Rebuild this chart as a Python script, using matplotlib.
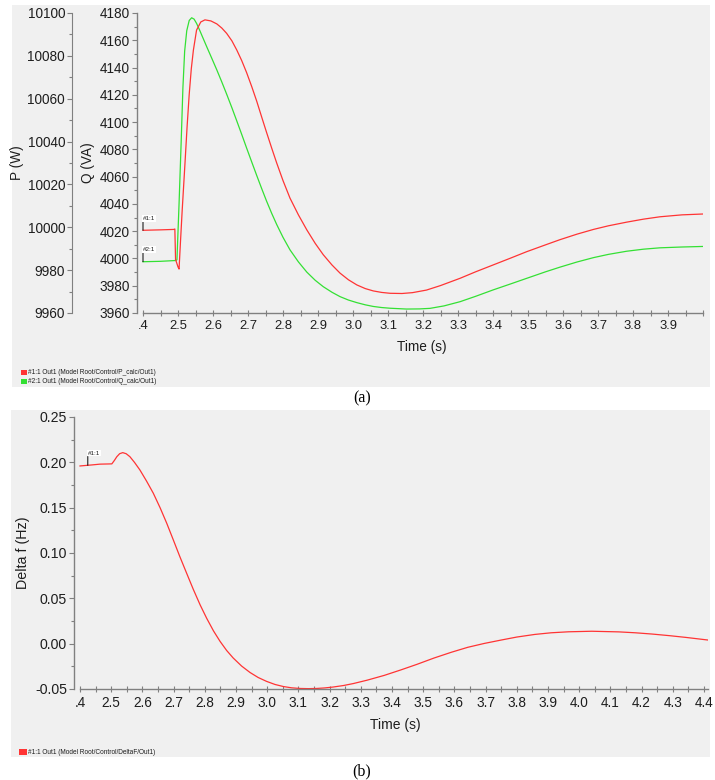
import numpy as np
import matplotlib
matplotlib.use("Agg")
import matplotlib.pyplot as plt
from matplotlib.patches import Rectangle
from matplotlib.ticker import MultipleLocator, FormatStrFormatter

plt.rcParams['font.family'] = ['Liberation Sans', 'DejaVu Sans']
plt.rcParams['axes.unicode_minus'] = False

# ---- panel (a): P and Q after the step ----
t_p = [2.400, 2.450, 2.488, 2.491, 2.493, 2.500, 2.503, 2.507, 2.512, 2.520,
       2.526, 2.532, 2.538, 2.544, 2.553, 2.565, 2.577, 2.594, 2.611, 2.625,
       2.639, 2.654, 2.668, 2.682, 2.696, 2.711, 2.725, 2.739, 2.753, 2.768,
       2.782, 2.800, 2.820, 2.844, 2.868, 2.892, 2.915, 2.940, 2.963, 2.987,
       3.011, 3.035, 3.058, 3.082, 3.106, 3.140, 3.170, 3.210, 3.250, 3.306,
       3.350, 3.400, 3.450, 3.496, 3.550, 3.591, 3.640, 3.687, 3.730, 3.782,
       3.830, 3.877, 3.940, 4.000]
p_calc = [9998.6, 9998.8, 9999.0, 9999.2, 9985.0, 9981.5, 9980.5, 9993.0, 10008.0, 10030.0,
          10047.0, 10062.0, 10074.0, 10082.7, 10092.0, 10095.8, 10096.8, 10096.3, 10094.9, 10093.0,
          10090.5, 10087.0, 10082.7, 10077.8, 10072.2, 10065.5, 10058.8, 10051.5, 10044.3, 10036.8,
          10030.0, 10021.8, 10013.6, 10005.8, 9998.8, 9992.5, 9987.2, 9982.4, 9978.6, 9975.5,
          9973.1, 9971.4, 9970.3, 9969.6, 9969.2, 9969.1, 9969.5, 9970.7, 9972.8, 9976.2,
          9979.2, 9982.4, 9985.6, 9988.6, 9991.8, 9994.2, 9996.8, 9999.0, 10000.7, 10002.4,
          10003.8, 10004.9, 10005.8, 10006.2]

t_q = [2.400, 2.450, 2.494, 2.497, 2.503, 2.509, 2.514, 2.519, 2.525, 2.532,
       2.539, 2.546, 2.553, 2.560, 2.567, 2.582, 2.597, 2.611, 2.625, 2.639,
       2.654, 2.668, 2.682, 2.696, 2.711, 2.725, 2.739, 2.753, 2.768, 2.782,
       2.800, 2.820, 2.844, 2.868, 2.892, 2.915, 2.940, 2.963, 2.987, 3.011,
       3.035, 3.058, 3.082, 3.106, 3.153, 3.190, 3.220, 3.260, 3.306, 3.350,
       3.400, 3.450, 3.496, 3.550, 3.591, 3.640, 3.687, 3.730, 3.782, 3.830,
       3.877, 3.940, 4.000]
q_calc = [3997.6, 3997.9, 3998.5, 3999.0, 4040.0, 4085.0, 4125.0, 4152.0, 4167.0, 4174.5,
          4176.5, 4175.5, 4172.4, 4168.5, 4164.3, 4155.3, 4146.5, 4138.2, 4129.5, 4120.5,
          4110.5, 4100.8, 4091.0, 4081.0, 4070.5, 4060.8, 4051.3, 4042.1, 4032.9, 4024.9,
          4015.5, 4006.3, 3997.5, 3990.0, 3984.0, 3979.3, 3975.2, 3972.0, 3969.5, 3967.6,
          3966.0, 3964.8, 3964.0, 3963.5, 3962.9, 3963.0, 3963.4, 3965.2, 3968.3, 3972.2,
          3976.9, 3981.3, 3985.4, 3990.2, 3993.6, 3997.4, 4000.6, 4003.0, 4005.3, 4006.8,
          4007.8, 4008.4, 4008.8]

# ---- panel (b): frequency deviation ----
t_f = [2.400, 2.440, 2.464, 2.502, 2.510, 2.518, 2.527, 2.537, 2.548, 2.560,
       2.575, 2.592, 2.613, 2.635, 2.657, 2.678, 2.699, 2.720, 2.742, 2.763,
       2.785, 2.806, 2.828, 2.849, 2.870, 2.891, 2.918, 2.945, 2.971, 2.998,
       3.025, 3.052, 3.078, 3.105, 3.132, 3.159, 3.185, 3.212, 3.244, 3.276,
       3.320, 3.375, 3.428, 3.480, 3.535, 3.590, 3.643, 3.695, 3.750, 3.800,
       3.858, 3.910, 3.966, 4.040, 4.127, 4.180, 4.234, 4.290, 4.342, 4.413]
delta_f = [0.1960, 0.1972, 0.1980, 0.1983, 0.2020, 0.2062, 0.2095, 0.2107, 0.2095, 0.2062,
           0.1998, 0.1916, 0.1795, 0.1659, 0.1497, 0.1328, 0.1145, 0.0960, 0.0775, 0.0600,
           0.0428, 0.0280, 0.0140, 0.0025, -0.0075, -0.0158, -0.0247, -0.0318, -0.0373, -0.0416,
           -0.0450, -0.0473, -0.0487, -0.0494, -0.0496, -0.0494, -0.0488, -0.0478, -0.0462, -0.0440,
           -0.0403, -0.0350, -0.0290, -0.0228, -0.0158, -0.0095, -0.0040, 0.0002, 0.0040, 0.0073,
           0.0102, 0.0120, 0.0131, 0.0137, 0.0130, 0.0120, 0.0106, 0.0088, 0.0069, 0.0040]

xticks_a = [2.4, 2.5, 2.6, 2.7, 2.8, 2.9, 3.0, 3.1, 3.2, 3.3, 3.4, 3.5, 3.6, 3.7, 3.8, 3.9, 4.0]
xlabels_a = ['.4', '2.5', '2.6', '2.7', '2.8', '2.9', '3.0', '3.1', '3.2', '3.3',
             '3.4', '3.5', '3.6', '3.7', '3.8', '3.9', '']
xticks_b = [2.4, 2.5, 2.6, 2.7, 2.8, 2.9, 3.0, 3.1, 3.2, 3.3, 3.4, 3.5, 3.6, 3.7,
            3.8, 3.9, 4.0, 4.1, 4.2, 4.3, 4.4]
xlabels_b = ['.4'] + ['%.1f' % v for v in xticks_b[1:]]

RED = '#ff3434'
GREEN = '#34e034'
BG = '#f0f0f0'
SPINE = '#808080'
INK = '#1e1e1e'

W, H = 715, 780


def box(x0, y0, x1, y1):
    # pixel box (top-left origin) -> figure rect
    return [x0 / W, 1 - y1 / H, (x1 - x0) / W, (y1 - y0) / H]


def style_axis(ax, size):
    for s in ['top', 'right']:
        ax.spines[s].set_visible(False)
    for s in ['left', 'bottom']:
        ax.spines[s].set_color(SPINE)
        ax.spines[s].set_linewidth(1.0)
    ax.tick_params(axis='y', which='major', direction='out', length=3.5, width=0.8,
                   color=SPINE, labelsize=size, labelcolor=INK, pad=1.5)
    ax.tick_params(axis='y', which='minor', direction='out', length=2, width=0.8, color=SPINE)
    ax.tick_params(axis='x', which='both', direction='inout', length=4, width=0.8,
                   color=SPINE, labelsize=size - 0.4, labelcolor=INK, pad=3)


def add_tag(ax, text, x, y):
    ax.annotate(text, xy=(x, y), xytext=(0, 7), textcoords='offset points',
                fontsize=4.5, color=INK, ha='left', va='bottom',
                bbox=dict(boxstyle='square,pad=0.15', fc='white', ec='none'),
                arrowprops=dict(arrowstyle='-', color='black', lw=0.7,
                                shrinkA=0, shrinkB=0, relpos=(0, 0)))


fig = plt.figure(figsize=(W / 100, H / 100), dpi=100)

for b in [box(12, 5, 710, 387), box(11, 410, 710, 757)]:
    fig.patches.append(Rectangle((b[0], b[1]), b[2], b[3], transform=fig.transFigure,
                                 facecolor=BG, edgecolor='none', zorder=-1))

# ---------------- (a) ----------------
ax_q = fig.add_axes(box(137, 13, 703, 313))
ax_q.set_facecolor(BG)
ax_p = ax_q.twinx()

ax_q.plot(t_q, q_calc, color=GREEN, lw=0.9)
ax_p.plot(t_p, p_calc, color=RED, lw=0.9)

ax_q.set_xlim(2.4 - 6 / 350, 4.0)
ax_q.set_ylim(3960, 4180)
ax_p.set_ylim(9960, 10100)

style_axis(ax_q, 9.8)
ax_q.spines['bottom'].set_bounds(2.4, 4.0)
ax_q.set_xticks(xticks_a)
ax_q.set_xticklabels(xlabels_a)
ax_q.xaxis.set_minor_locator(MultipleLocator(0.05))
ax_q.yaxis.set_major_locator(MultipleLocator(20))
ax_q.yaxis.set_minor_locator(MultipleLocator(10))

for s in ['top', 'right', 'bottom']:
    ax_p.spines[s].set_visible(False)
ax_p.spines['left'].set_visible(True)
ax_p.spines['left'].set_position(('outward', 65 * 0.72))
ax_p.spines['left'].set_color(SPINE)
ax_p.yaxis.tick_left()
ax_p.tick_params(axis='y', which='major', direction='out', length=3.5, width=0.8,
                 color=SPINE, labelsize=9.8, labelcolor=INK, pad=1.5)
ax_p.tick_params(axis='y', which='minor', direction='out', length=2, width=0.8, color=SPINE)
ax_p.yaxis.set_major_locator(MultipleLocator(20))
ax_p.yaxis.set_minor_locator(MultipleLocator(10))

fig.text(17 / W, 1 - 163 / H, 'P (W)', rotation=90, ha='center', va='center',
         fontsize=9.8, color=INK)
fig.text(88 / W, 1 - 163 / H, 'Q (VA)', rotation=90, ha='center', va='center',
         fontsize=9.8, color=INK)
fig.text(422 / W, 1 - 347 / H, 'Time (s)', ha='center', va='center', fontsize=9.8, color=INK)

add_tag(ax_p, '#1:1', t_p[0], p_calc[0])
add_tag(ax_q, '#2:1', t_q[0], q_calc[0])

for y, col, txt in [(370, RED, '#1:1 Out1 (Model Root/Control/P_calc/Out1)'),
                    (379, GREEN, '#2:1 Out1 (Model Root/Control/Q_calc/Out1)')]:
    b = box(21, y, 27, y + 5)
    fig.patches.append(Rectangle((b[0], b[1]), b[2], b[3], transform=fig.transFigure,
                                 facecolor=col, edgecolor='none', zorder=2))
    fig.text(28.5 / W, 1 - (y + 2.5) / H, txt, fontsize=4.7, color=INK, va='center')

fig.text(362 / W, 1 - 398 / H, '(a)', ha='center', va='center', fontsize=11.5,
         family=['Liberation Serif', 'DejaVu Serif'])

# ---------------- (b) ----------------
ax_f = fig.add_axes(box(74, 417, 708, 689))
ax_f.set_facecolor(BG)
ax_f.plot(t_f, delta_f, color=RED, lw=0.9)
ax_f.set_xlim(2.4 - 6 / 312, 4.4 + 4 / 312)
ax_f.set_ylim(-0.05, 0.25)
style_axis(ax_f, 10.2)
ax_f.spines['bottom'].set_bounds(2.4, 4.4 + 4 / 312)
ax_f.set_xticks(xticks_b)
ax_f.set_xticklabels(xlabels_b)
ax_f.xaxis.set_minor_locator(MultipleLocator(0.05))
ax_f.yaxis.set_major_locator(MultipleLocator(0.05))
ax_f.yaxis.set_minor_locator(MultipleLocator(0.025))
ax_f.yaxis.set_major_formatter(FormatStrFormatter('%.2f'))

f_tag = 2.425
add_tag(ax_f, '#1:1', f_tag, np.interp(f_tag, t_f, delta_f))

fig.text(23 / W, 1 - 553 / H, 'Delta f (Hz)', rotation=90, ha='center', va='center',
         fontsize=10.3, color=INK)
fig.text(395 / W, 1 - 725 / H, 'Time (s)', ha='center', va='center', fontsize=10.0, color=INK)

b = box(19, 749, 27, 755)
fig.patches.append(Rectangle((b[0], b[1]), b[2], b[3], transform=fig.transFigure,
                             facecolor=RED, edgecolor='none', zorder=2))
fig.text(28.5 / W, 1 - 752 / H, '#1:1 Out1 (Model Root/Control/DeltaF/Out1)', fontsize=4.7,
         color=INK, va='center')

fig.text(362 / W, 1 - 771 / H, '(b)', ha='center', va='center', fontsize=11.5,
         family=['Liberation Serif', 'DejaVu Serif'])

fig.savefig('out.png', dpi=100)
